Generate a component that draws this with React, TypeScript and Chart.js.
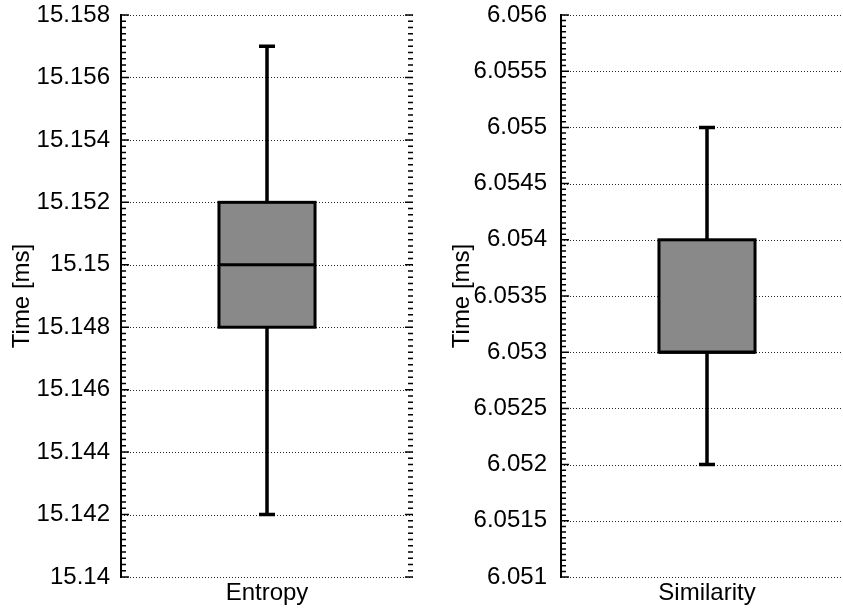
import React, { useEffect, useRef } from 'react';
import { Chart, registerables } from 'chart.js';
Chart.register(...registerables);

const FONT = "'Liberation Sans', Arial, Helvetica, sans-serif";

const entropyCategories = ['Entropy'];
const entropyMin = [15.142];
const entropyQ1 = [15.148];
const entropyMedian = [15.15];
const entropyQ3 = [15.152];
const entropyMax = [15.157];
const entropyTicks = [15.14, 15.142, 15.144, 15.146, 15.148, 15.15, 15.152, 15.154, 15.156, 15.158];

const similarityCategories = ['Similarity'];
const similarityMin = [6.052];
const similarityQ1 = [6.053];
const similarityMedian = [6.053];
const similarityQ3 = [6.054];
const similarityMax = [6.055];
const similarityTicks = [6.051, 6.0515, 6.052, 6.0525, 6.053, 6.0535, 6.054, 6.0545, 6.055, 6.0555, 6.056];

const yTitle = 'Time [ms]';

type PanelProps = {
  categories: string[];
  mins: number[];
  q1s: number[];
  medians: number[];
  q3s: number[];
  maxs: number[];
  ticks: number[];
  labelPad: number;
  left: number;
};

function makeDecor(p: PanelProps) {
  return {
    id: 'boxDecor',
    beforeDatasetsDraw(chart: any) {
      const { ctx, chartArea: a, scales } = chart;
      const y = scales.y;
      ctx.save();
      ctx.strokeStyle = 'rgba(0,0,0,0.85)';
      ctx.lineWidth = 1;
      ctx.setLineDash([1, 2]);
      p.ticks.forEach((v) => {
        const py = Math.round(y.getPixelForValue(v)) + 0.5;
        ctx.beginPath();
        ctx.moveTo(a.left, py);
        ctx.lineTo(a.right, py);
        ctx.stroke();
      });
      ctx.restore();
    },
    afterDatasetsDraw(chart: any) {
      const { ctx, chartArea: a, scales } = chart;
      const y = scales.y;
      const meta = chart.getDatasetMeta(0);
      ctx.save();
      ctx.strokeStyle = '#000';
      ctx.setLineDash([]);
      meta.data.forEach((bar: any, i: number) => {
        const cx = bar.x;
        const w = bar.width;
        const yLo = y.getPixelForValue(p.mins[i]);
        const yHi = y.getPixelForValue(p.maxs[i]);
        const yQ1 = y.getPixelForValue(p.q1s[i]);
        const yQ3 = y.getPixelForValue(p.q3s[i]);
        const yMed = y.getPixelForValue(p.medians[i]);
        ctx.lineWidth = 3.5;
        ctx.beginPath();
        ctx.moveTo(cx, yQ3);
        ctx.lineTo(cx, yHi);
        ctx.moveTo(cx, yQ1);
        ctx.lineTo(cx, yLo);
        ctx.stroke();
        ctx.beginPath();
        ctx.moveTo(cx - 8, yHi);
        ctx.lineTo(cx + 8, yHi);
        ctx.moveTo(cx - 8, yLo);
        ctx.lineTo(cx + 8, yLo);
        ctx.stroke();
        ctx.lineWidth = 3;
        ctx.strokeRect(cx - w / 2, yQ3, w, yQ1 - yQ3);
        ctx.beginPath();
        ctx.moveTo(cx - w / 2, yMed);
        ctx.lineTo(cx + w / 2, yMed);
        ctx.stroke();
      });
      // axis line
      ctx.lineWidth = 2;
      ctx.beginPath();
      ctx.moveTo(a.left, a.top - 1);
      ctx.lineTo(a.left, a.bottom + 1);
      ctx.stroke();
      // major and minor ticks
      const step = (p.ticks[1] - p.ticks[0]) / 10;
      const lo = p.ticks[0];
      const hi = p.ticks[p.ticks.length - 1];
      const n = Math.round((hi - lo) / step);
      ctx.lineWidth = 1.5;
      ctx.beginPath();
      for (let k = 0; k <= n; k++) {
        const v = lo + k * step;
        const py = y.getPixelForValue(v);
        const len = k % 10 === 0 ? 8 : 5;
        ctx.moveTo(a.left, py);
        ctx.lineTo(a.left + len, py);
        ctx.moveTo(a.right, py);
        ctx.lineTo(a.right - len, py);
      }
      ctx.stroke();
      ctx.restore();
    },
  };
}

function Panel(p: PanelProps) {
  const ref = useRef<HTMLCanvasElement>(null);
  useEffect(() => {
    if (!ref.current) return;
    const chart = new Chart(ref.current, {
      type: 'bar',
      data: {
        labels: p.categories,
        datasets: [
          {
            data: p.q1s.map((q, i) => [q, p.q3s[i]]) as any,
            backgroundColor: '#898989',
            borderWidth: 0,
            categoryPercentage: 1,
            barPercentage: 0.329,
          },
        ],
      },
      options: {
        responsive: false,
        animation: false,
        layout: { padding: { top: 15, right: 27, left: 0, bottom: 0 } },
        plugins: {
          legend: { display: false },
          tooltip: { enabled: false },
          title: { display: false },
        },
        scales: {
          x: {
            grid: { display: false, drawTicks: false },
            border: { display: false },
            ticks: { color: '#000', font: { family: FONT, size: 24 }, padding: 2 },
            afterFit: (s: any) => {
              s.height = 38;
              s.paddingLeft = 0;
              s.paddingRight = 0;
            },
          },
          y: {
            min: p.ticks[0],
            max: p.ticks[p.ticks.length - 1],
            grid: { display: false, drawTicks: false },
            border: { display: false },
            afterBuildTicks: (s: any) => {
              s.ticks = p.ticks.map((v) => ({ value: v }));
            },
            ticks: {
              color: '#000',
              font: { family: FONT, size: 24 },
              padding: p.labelPad,
              callback: (v: any) => String(v),
            },
            title: {
              display: true,
              text: yTitle,
              color: '#000',
              font: { family: FONT, size: 24 },
              padding: { top: 8, bottom: 0 },
            },
            afterFit: (s: any) => {
              s.width = 121;
              s.paddingTop = 0;
              s.paddingBottom = 0;
            },
          },
        },
      } as any,
      plugins: [makeDecor(p)],
    });
    return () => chart.destroy();
  }, []);
  return (
    <canvas
      ref={ref}
      width={440}
      height={615}
      style={{ position: 'absolute', left: p.left, top: 0, width: 440, height: 615, display: 'block' }}
    />
  );
}

export default function App() {
  return (
    <div
      style={{
        position: 'fixed',
        left: 0,
        top: 0,
        width: 843,
        height: 615,
        overflow: 'hidden',
        background: '#fff',
      }}
    >
      <Panel
        categories={entropyCategories}
        mins={entropyMin}
        q1s={entropyQ1}
        medians={entropyMedian}
        q3s={entropyQ3}
        maxs={entropyMax}
        ticks={entropyTicks}
        labelPad={11}
        left={0}
      />
      <Panel
        categories={similarityCategories}
        mins={similarityMin}
        q1s={similarityQ1}
        medians={similarityMedian}
        q3s={similarityQ3}
        maxs={similarityMax}
        ticks={similarityTicks}
        labelPad={14}
        left={440}
      />
    </div>
  );
}
